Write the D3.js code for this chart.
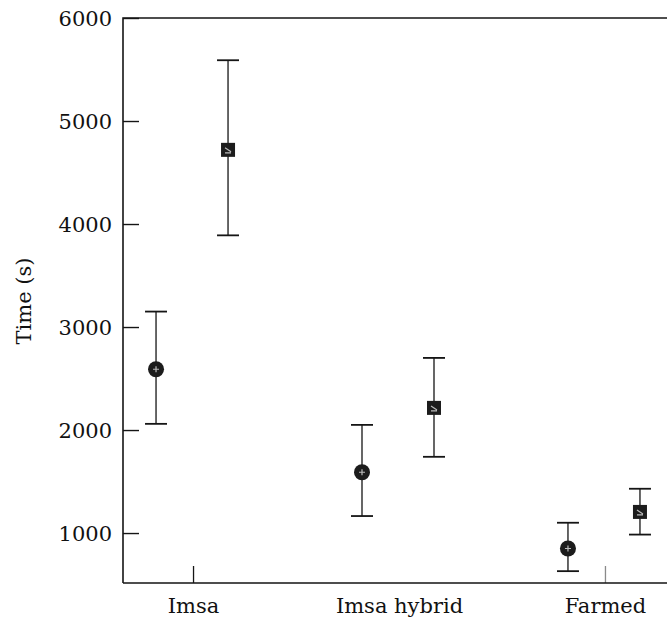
<!DOCTYPE html>
<html><head><meta charset="utf-8">
<script src="https://cdn.jsdelivr.net/npm/d3@7"></script>
<style>
html,body{margin:0;padding:0;background:#fff;}
text{font-family:"DejaVu Serif","Liberation Serif",serif;fill:#111;}
</style></head>
<body><svg id="c" width="667" height="622"></svg>
<script>
const categories = ["Imsa", "Imsa hybrid", "Farmed"];
const seriesNames = ["circle", "square"];
const circleMean = [2590, 1590, 850];
const circleUpper = [3150, 2050, 1100];
const circleLower = [2060, 1165, 630];
const squareMean = [4720, 2215, 1205];
const squareUpper = [5590, 2700, 1430];
const squareLower = [3890, 1740, 985];
const yTicks = [1000, 2000, 3000, 4000, 5000, 6000];
const yLabel = "Time (s)";

(function () {
const svg = d3.select("#c");
const mLeft = 123, mTop = 18, mBottom = 583, mRight = 700;
const y = d3.scaleLinear().domain([515, 6000]).range([mBottom, mTop]);
const x = d3.scalePoint().domain(categories).range([123, 675]).padding(0.34);
const offset = {circle: -37, square: 35};
const ink = "#151515";

// frame
svg.append("path")
  .attr("d", `M${mLeft},${mBottom}V${mTop}H${mRight}M${mLeft},${mBottom}H${mRight}`)
  .attr("fill", "none").attr("stroke", ink).attr("stroke-width", 1.6);

// y axis
const yAxis = d3.axisLeft(y).tickValues(yTicks).tickSize(-16).tickPadding(27).tickFormat(d3.format("d"));
const gy = svg.append("g").attr("transform", `translate(${mLeft},0)`).call(yAxis);
gy.select(".domain").remove();
gy.selectAll(".tick line").attr("stroke", ink).attr("stroke-width", 1.4);
gy.selectAll(".tick text").attr("font-size", 21).attr("font-family", "DejaVu Serif").attr("fill", "#111").attr("x", -11).attr("dy", "0.35em");

// x axis
const xAxis = d3.axisBottom(x).tickSize(-17).tickPadding(0);
const gx = svg.append("g").attr("transform", `translate(0,${mBottom})`).call(xAxis);
gx.select(".domain").remove();
gx.selectAll(".tick line").attr("stroke", ink).attr("stroke-width", 1.3)
  .attr("opacity", (d, i) => i === 1 ? 0 : (i === 2 ? 0.5 : 1));
gx.selectAll(".tick text").attr("font-size", 21).attr("font-family", "DejaVu Serif").attr("fill", "#111").attr("y", 30).attr("dy", 0);

// y label
svg.append("text").attr("transform", `translate(31,301) rotate(-90)`)
  .attr("text-anchor", "middle").attr("font-size", 21).text(yLabel);

const series = [
  {name: "circle", mean: circleMean, upper: circleUpper, lower: circleLower},
  {name: "square", mean: squareMean, upper: squareUpper, lower: squareLower}
];
const capW = 11;
series.forEach(s => {
  const g = svg.append("g");
  categories.forEach((c, i) => {
    const cx = x(c) + offset[s.name];
    g.append("line").attr("x1", cx).attr("x2", cx)
      .attr("y1", y(s.upper[i])).attr("y2", y(s.lower[i]))
      .attr("stroke", ink).attr("stroke-width", 1.3);
    [s.upper[i], s.lower[i]].forEach(v => {
      g.append("line").attr("x1", cx - capW).attr("x2", cx + capW)
        .attr("y1", y(v)).attr("y2", y(v))
        .attr("stroke", ink).attr("stroke-width", 1.8);
    });
    const cy = y(s.mean[i]);
    if (s.name === "circle") {
      g.append("circle").attr("cx", cx).attr("cy", cy).attr("r", 8).attr("fill", "#1c1c1c");
      g.append("path").attr("d", `M${cx-3},${cy}H${cx+3}M${cx},${cy-3}V${cy+3}`)
        .attr("stroke", "#bbb").attr("stroke-width", 1.2);
    } else {
      g.append("rect").attr("x", cx - 7).attr("y", cy - 7).attr("width", 14).attr("height", 14).attr("fill", "#1c1c1c");
      g.append("path").attr("d", `M${cx-3},${cy-2}L${cx+3},${cy+2}M${cx-3},${cy+3}H${cx+3}`)
        .attr("stroke", "#bbb").attr("stroke-width", 1.2);
    }
  });
});
})();
</script></body></html>
